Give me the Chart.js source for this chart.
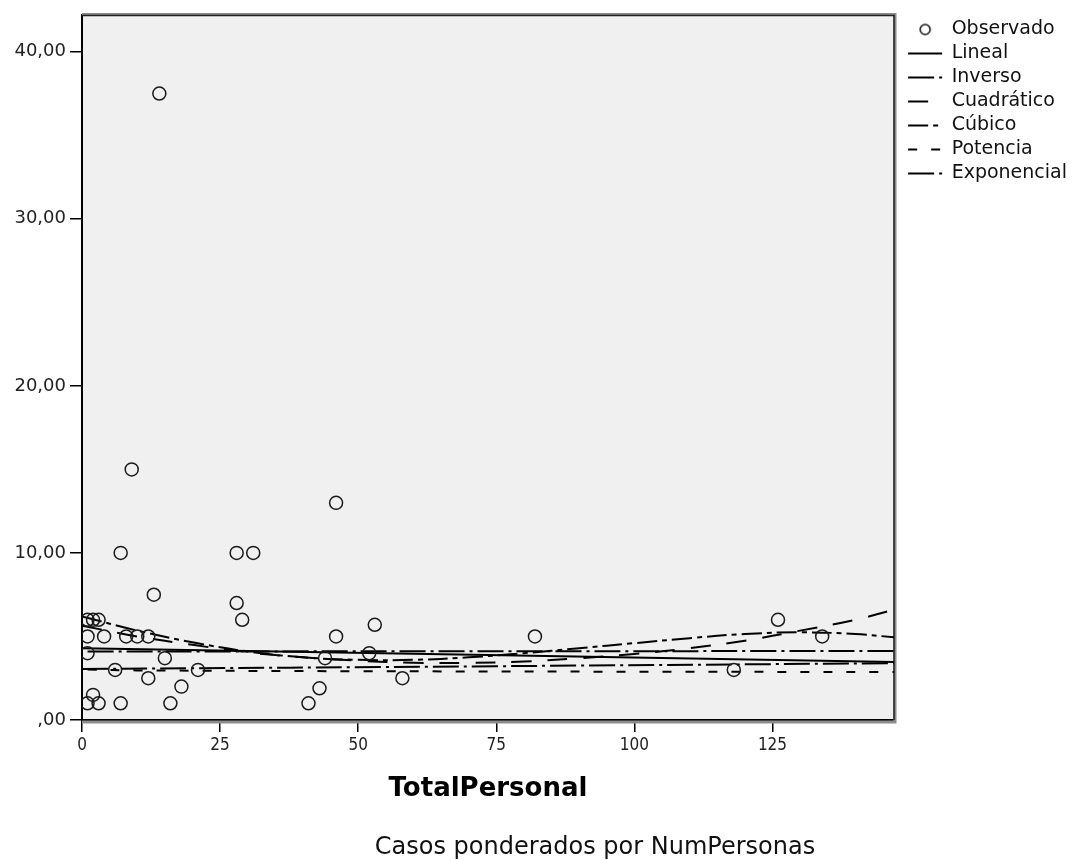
<!DOCTYPE html>
<html>
<head>
<meta charset="utf-8">
<script src="https://cdn.jsdelivr.net/npm/chart.js@4.4.1/dist/chart.umd.min.js"></script>
<style>
  html, body { margin: 0; padding: 0; background: #fff; }
  canvas { display: block; }
</style>
</head>
<body>
<canvas id="chart" width="1077" height="860"></canvas>
<script>
// Observed cases
const obsX = [1, 2, 3, 7, 16, 18, 41, 43, 1, 6, 12, 15, 21, 1, 4, 8, 10, 12, 1, 2, 3,
              13, 28, 29, 46, 44, 14, 9, 7, 28, 31, 46, 53, 52, 58, 82, 118, 126, 134];
const obsY = [1, 1.5, 1, 1, 1, 2, 1, 1.9, 4, 3, 2.5, 3.7, 3, 5, 5, 5, 5, 5, 6, 6, 6,
              7.5, 7, 6, 5, 3.7, 37.5, 15, 10, 10, 10, 13, 5.7, 4, 2.5, 5, 3, 6, 5];

// Fitted curves
const linealX = [0, 147];
const linealY = [4.30, 3.47];
const inversoX = [1, 147];
const inversoY = [4.10, 4.13];
const cuadraticoX = [0, 10, 20, 30, 40, 50, 60, 70, 80, 90, 100, 110, 120, 130, 140, 147];
const cuadraticoY = [5.65, 5.0, 4.5, 4.05, 3.75, 3.55, 3.42, 3.42, 3.5, 3.7, 3.95, 4.3, 4.75, 5.35, 6.0, 6.6];
const cubicoX = [0, 10, 20, 30, 40, 50, 60, 70, 80, 90, 100, 110, 120, 130, 140, 147];
const cubicoY = [6.2, 5.35, 4.65, 4.1, 3.75, 3.6, 3.6, 3.75, 4.0, 4.3, 4.6, 4.9, 5.15, 5.25, 5.15, 4.95];
const potenciaX = [1, 10, 50, 147];
const potenciaY = [3.02, 2.97, 2.92, 2.87];
const exponencialX = [0, 75, 147];
const exponencialY = [3.05, 3.22, 3.40];

// Axis ticks and texts
const xTicks = [0, 25, 50, 75, 100, 125];
const yTicks = [0, 10, 20, 30, 40];
const seriesNames = ['Observado', 'Lineal', 'Inverso', 'Cuadrático', 'Cúbico', 'Potencia', 'Exponencial'];
const xTitle = 'TotalPersonal';
const footNote = 'Casos ponderados por NumPersonas';

const pairs = (xs, ys) => xs.map((x, i) => ({ x: x, y: ys[i] }));

// Legend geometry: keep the plot's right edge at a fixed spot and the legend after it
const LEGEND_FONT = 19;
const LEGEND_SAMPLE = 34;
const LEGEND_PAD = 5;
const PLOT_RIGHT = 894;
const mctx = document.createElement('canvas').getContext('2d');
mctx.font = LEGEND_FONT + 'px DejaVu Sans';
const widest = Math.max(...seriesNames.map(n => mctx.measureText(n).width));
const legendWidth = LEGEND_PAD + LEGEND_SAMPLE + LEGEND_FONT / 2 + widest + 10;
const gapRight = Math.max(0, 1077 - PLOT_RIGHT - legendWidth);

// Hollow circle used as the legend sample of the observed cases
const circleMark = document.createElement('canvas');
circleMark.width = 14; circleMark.height = 14;
(function () {
  const c = circleMark.getContext('2d');
  c.strokeStyle = '#111';
  c.lineWidth = 1.5;
  c.beginPath();
  c.arc(7, 7, 5, 0, Math.PI * 2);
  c.stroke();
})();

const curve = (label, xs, ys, dash) => ({
  label: label,
  data: pairs(xs, ys),
  showLine: true,
  pointRadius: 0,
  pointHoverRadius: 0,
  borderColor: '#000',
  borderWidth: 2,
  borderDash: dash,
  tension: 0.35,
  fill: false,
  xAxisID: 'x',
  yAxisID: 'y'
});

const plotFrame = {
  id: 'plotFrame',
  beforeDraw(chart) {
    const { ctx, chartArea: a } = chart;
    ctx.save();
    ctx.fillStyle = '#f0f0f0';
    ctx.fillRect(a.left, a.top, a.right - a.left, a.bottom - a.top);
    ctx.restore();
  },
  beforeDatasetsDraw(chart) {
    const { ctx, chartArea: a } = chart;
    ctx.save();
    ctx.strokeStyle = '#8c8c8c';
    ctx.lineWidth = 3;
    ctx.beginPath();
    ctx.moveTo(a.left, a.top - 0.5);
    ctx.lineTo(a.right + 1, a.top - 0.5);
    ctx.lineTo(a.right + 1, a.bottom + 2);
    ctx.lineTo(a.left, a.bottom + 2);
    ctx.stroke();
    ctx.strokeStyle = '#222';
    ctx.lineWidth = 1.5;
    ctx.beginPath();
    ctx.moveTo(a.left, a.top + 0.5);
    ctx.lineTo(a.right, a.top + 0.5);
    ctx.lineTo(a.right, a.bottom);
    ctx.stroke();
    ctx.restore();
  },
  afterDraw(chart) {
    const ctx = chart.ctx;
    ctx.save();
    ctx.fillStyle = '#111';
    ctx.font = '24px DejaVu Sans';
    ctx.textAlign = 'center';
    ctx.textBaseline = 'middle';
    ctx.fillText(footNote, 595, 848);
    ctx.restore();
  }
};

const gridOpts = { drawOnChartArea: false, drawTicks: true, tickLength: 12, color: '#000', lineWidth: 1.5 };
const borderOpts = { display: true, color: '#000', width: 2 };

new Chart(document.getElementById('chart'), {
  type: 'scatter',
  data: {
    datasets: [
      {
        label: seriesNames[0],
        data: pairs(obsX, obsY),
        pointRadius: 6.5,
        pointHoverRadius: 6.5,
        pointBorderWidth: 1.5,
        pointBorderColor: '#1a1a1a',
        pointBackgroundColor: 'rgba(0,0,0,0)',
        xAxisID: 'x',
        yAxisID: 'y'
      },
      curve(seriesNames[1], linealX, linealY, []),
      curve(seriesNames[2], inversoX, inversoY, [26, 5, 3, 5]),
      curve(seriesNames[3], cuadraticoX, cuadraticoY, [20, 16]),
      curve(seriesNames[4], cubicoX, cubicoY, [20, 5, 5, 5]),
      curve(seriesNames[5], potenciaX, potenciaY, [9, 14]),
      curve(seriesNames[6], exponencialX, exponencialY, [26, 5, 3, 5])
    ]
  },
  options: {
    responsive: false,
    animation: false,
    devicePixelRatio: 1,
    layout: { padding: { top: 15, left: 0, right: 0, bottom: 0 } },
    scales: {
      x: {
        type: 'linear',
        position: 'bottom',
        min: 0,
        max: 147,
        afterBuildTicks: s => { s.ticks = xTicks.map(v => ({ value: v })); },
        afterFit: s => { s.height = 140; },
        grid: gridOpts,
        border: borderOpts,
        ticks: {
          font: { family: "'DejaVu Sans Condensed', 'Liberation Sans', sans-serif", size: 17 },
          color: '#222',
          padding: 3,
          maxRotation: 0,
          autoSkip: false,
          callback: v => String(v)
        },
        title: {
          display: true,
          text: xTitle,
          color: '#000',
          font: { family: 'DejaVu Sans', size: 26, weight: 'bold' },
          padding: { top: 0, bottom: 55 }
        }
      },
      y: {
        type: 'linear',
        position: 'left',
        min: 0,
        max: 42.2,
        afterBuildTicks: s => { s.ticks = yTicks.map(v => ({ value: v })); },
        afterFit: s => { s.width = 82; },
        grid: gridOpts,
        border: borderOpts,
        ticks: {
          font: { family: 'DejaVu Sans', size: 18 },
          color: '#222',
          padding: 4,
          callback: v => v === 0 ? ',00' : v.toFixed(2).replace('.', ',')
        }
      },
      y2: {
        type: 'linear',
        position: 'right',
        display: true,
        grid: { display: false, drawTicks: false },
        border: { display: false },
        ticks: { display: false },
        afterFit: s => { s.width = gapRight; }
      }
    },
    plugins: {
      tooltip: { enabled: false },
      legend: {
        position: 'right',
        align: 'start',
        labels: {
          usePointStyle: true,
          pointStyleWidth: LEGEND_SAMPLE,
          padding: LEGEND_PAD,
          color: '#111',
          font: { family: 'DejaVu Sans', size: LEGEND_FONT },
          generateLabels: chart => chart.data.datasets.map((ds, i) => ({
            text: ds.label,
            datasetIndex: i,
            hidden: false,
            fontColor: '#111',
            fillStyle: 'rgba(0,0,0,0)',
            strokeStyle: '#000',
            lineWidth: i === 0 ? 1.5 : 2,
            lineDash: ds.borderDash || [],
            pointStyle: i === 0 ? circleMark : 'line'
          }))
        }
      }
    }
  },
  plugins: [plotFrame]
});
</script>
</body>
</html>
